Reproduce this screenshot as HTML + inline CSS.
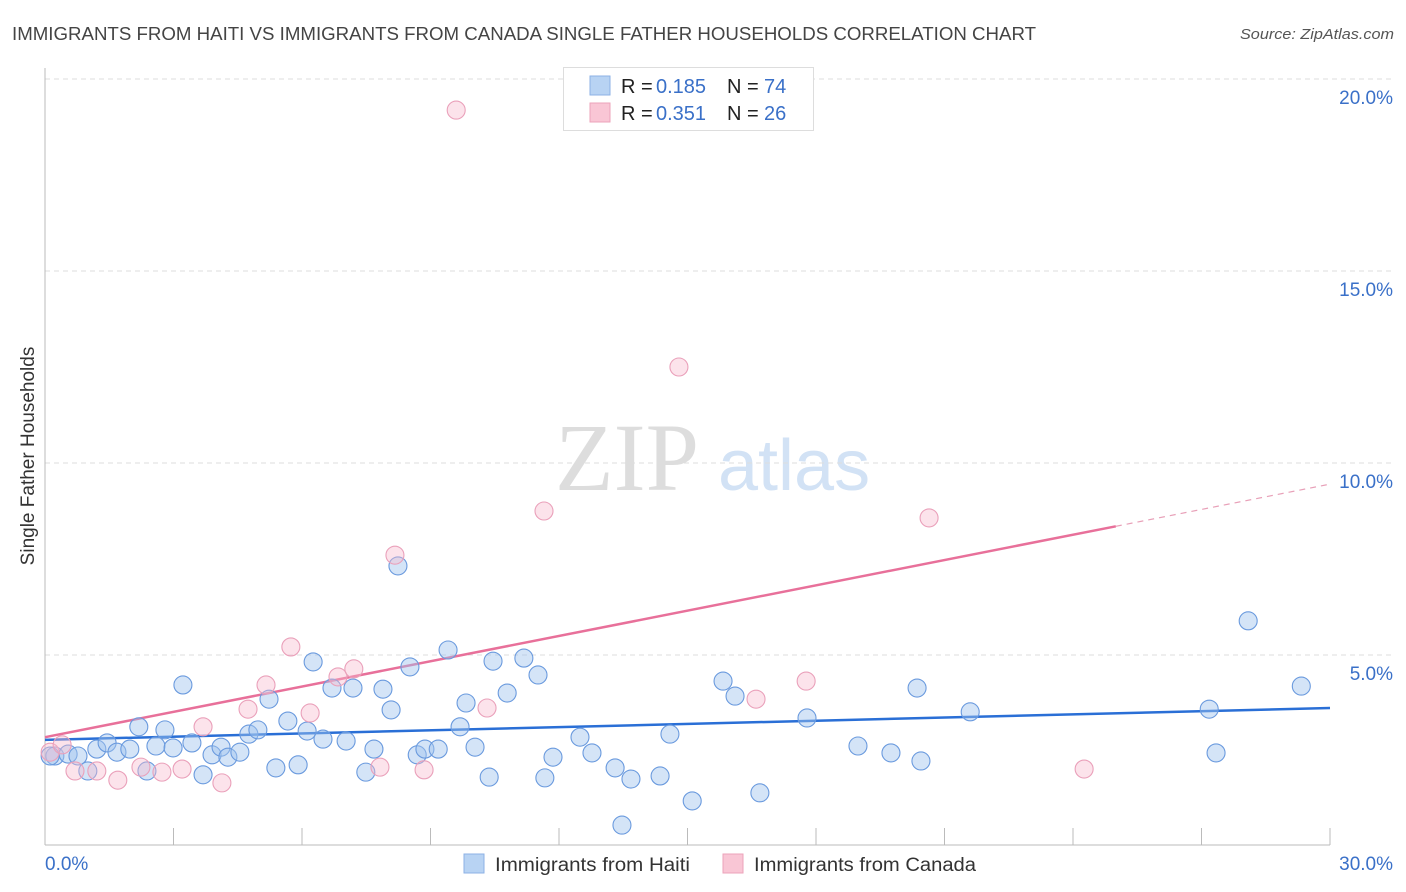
<!DOCTYPE html>
<html><head><meta charset="utf-8"><style>
body{margin:0;background:#fff;font-family:"Liberation Sans",sans-serif}
svg{display:block}
</style></head><body>
<svg id="chart" width="1406" height="892" xmlns="http://www.w3.org/2000/svg">
<text x="12" y="40" font-size="18" fill="#444" textLength="1024" lengthAdjust="spacingAndGlyphs">IMMIGRANTS FROM HAITI VS IMMIGRANTS FROM CANADA SINGLE FATHER HOUSEHOLDS CORRELATION CHART</text>
<text x="1240" y="39" font-size="15" fill="#555" font-style="italic" textLength="154" lengthAdjust="spacingAndGlyphs">Source: ZipAtlas.com</text>
<g>
<text x="555" y="490" font-size="96" fill="#ddd" font-family="Liberation Serif,serif">ZIP</text>
<text x="718" y="490" font-size="72" fill="#d2e2f5">atlas</text>
</g>
<g id="grid"></g>
<g id="axes"></g>
<g id="trend"></g>
<g id="pts"></g>
<text transform="translate(34,456) rotate(-90)" font-size="19" fill="#333" text-anchor="middle">Single Father Households</text>
<g>
<rect x="563.5" y="67.5" width="250" height="63" fill="#fff" stroke="#ddd"/>
<rect x="590" y="76" width="20" height="19" fill="#b8d3f3" stroke="#8cb2e6"/>
<rect x="590" y="103" width="20" height="19" fill="#f9c6d5" stroke="#eca3ba"/>
<text y="93" font-size="20" fill="#222"><tspan x="621">R =</tspan><tspan x="656" fill="#3a70c8">0.185</tspan><tspan x="727">N =</tspan><tspan x="764" fill="#3a70c8">74</tspan></text>
<text y="120" font-size="20" fill="#222"><tspan x="621">R =</tspan><tspan x="656" fill="#3a70c8">0.351</tspan><tspan x="727">N =</tspan><tspan x="764" fill="#3a70c8">26</tspan></text>
</g>
<g>
<rect x="464" y="854" width="20" height="19" fill="#b8d3f3" stroke="#8cb2e6"/>
<text x="495" y="871" font-size="19" fill="#333" textLength="195" lengthAdjust="spacingAndGlyphs">Immigrants from Haiti</text>
<rect x="723" y="854" width="20" height="19" fill="#f9c6d5" stroke="#eca3ba"/>
<text x="754" y="871" font-size="19" fill="#333" textLength="222" lengthAdjust="spacingAndGlyphs">Immigrants from Canada</text>
</g>
</svg>
<script>
const haitiX=[0.23,0.54,0.77,1.00,1.21,1.45,1.68,1.98,2.19,2.38,2.59,2.80,2.99,3.22,3.43,3.69,3.90,4.11,4.27,4.55,4.76,4.97,5.23,5.39,5.67,5.91,6.12,6.26,6.49,6.70,7.03,7.19,7.49,7.68,7.89,8.08,8.24,8.52,8.69,8.87,9.18,9.41,9.69,9.83,10.04,10.37,10.46,10.79,11.18,11.51,11.67,11.86,12.49,12.77,13.31,13.68,14.36,14.59,13.47,15.11,15.83,16.11,16.69,17.79,18.98,19.75,20.45,20.36,21.60,27.18,27.34,28.09,29.33,0.12];
const haitiY=[2.37,2.42,2.37,1.98,2.55,2.71,2.47,2.55,3.13,1.98,2.63,3.05,2.58,4.22,2.71,1.88,2.40,2.60,2.34,2.47,2.94,3.05,3.85,2.06,3.28,2.14,3.02,4.82,2.81,4.14,2.76,4.14,1.95,2.55,4.11,3.57,7.32,4.69,2.40,2.55,2.55,5.13,3.13,3.75,2.60,1.82,4.84,4.01,4.92,4.48,1.80,2.34,2.86,2.45,2.06,1.77,1.85,2.94,0.57,1.20,4.32,3.93,1.41,3.36,2.63,2.45,2.24,4.14,3.52,3.59,2.45,5.89,4.19,2.37];
const canadaX=[0.12,0.40,0.70,1.21,1.70,2.24,2.73,3.20,3.69,4.13,4.74,5.16,5.74,6.19,6.84,7.21,7.82,8.17,8.85,9.60,10.32,11.65,14.80,16.60,17.77,20.64,24.26];
const canadaY=[2.47,2.66,1.98,1.98,1.74,2.08,1.95,2.03,3.13,1.67,3.59,4.22,5.21,3.49,4.43,4.64,2.08,7.60,2.01,19.19,3.62,8.75,12.50,3.85,4.32,8.57,2.03];
const haitiTrend=[2.79,3.62];
const canadaTrend=[2.86,9.45];
const canadaSolidEnd=25;
const yTicks=[5,10,15,20];
const xTickLabels=["0.0%","30.0%"];
const NS="http://www.w3.org/2000/svg";
const X=v=>45+v*(1285/30), Y=v=>847-v*38.4;
function mk(tag,attrs,parent){const e=document.createElementNS(NS,tag);for(const k in attrs)e.setAttribute(k,attrs[k]);document.getElementById(parent).appendChild(e);return e;}
yTicks.forEach(t=>{
 const l=mk('line',{x1:45,x2:1393,y1:Y(t),y2:Y(t),stroke:'#ddd','stroke-dasharray':'5,4'},'grid');
 
 
 const tx=mk('text',{x:1393,y:Y(t)+25,'font-size':19,fill:'#3a70c8','text-anchor':'end'},'grid');
 tx.textContent=t.toFixed(1)+'%';
 
 
});
let a=mk('line',{x1:45,x2:45,y1:68,y2:845,stroke:'#bbb'},'axes');


a=mk('line',{x1:45,x2:1330,y1:845,y2:845,stroke:'#bbb'},'axes');


for(let i=0;i<=10;i++){
 const t=mk('line',{x1:X(i*3),x2:X(i*3),y1:828,y2:845,stroke:'#bbb'},'axes');
 
 
}
let xl=mk('text',{x:45,y:870,'font-size':19,fill:'#3a70c8'},'axes');xl.textContent=xTickLabels[0];


xl=mk('text',{x:1393,y:870,'font-size':19,fill:'#3a70c8','text-anchor':'end'},'axes');xl.textContent=xTickLabels[1];


haitiX.forEach((x,i)=>{
 const c=mk('circle',{cx:X(x),cy:Y(haitiY[i]),r:9,fill:'rgba(160,196,238,0.45)',stroke:'#6a9ade','stroke-width':1.1},'pts');
 
 
});
canadaX.forEach((x,i)=>{
 const c=mk('circle',{cx:X(x),cy:Y(canadaY[i]),r:9,fill:'rgba(247,185,205,0.4)',stroke:'#eaa0ba','stroke-width':1.1},'pts');
 
 
});
const cAt=x=>canadaTrend[0]+(canadaTrend[1]-canadaTrend[0])*x/30;
let tl=mk('line',{x1:X(0),y1:Y(haitiTrend[0]),x2:X(30),y2:Y(haitiTrend[1]),stroke:'#2a6fd6','stroke-width':2.5},'trend');


tl=mk('line',{x1:X(0),y1:Y(cAt(0)),x2:X(canadaSolidEnd),y2:Y(cAt(canadaSolidEnd)),stroke:'#e8709a','stroke-width':2.5},'trend');


tl=mk('line',{x1:X(canadaSolidEnd),y1:Y(cAt(canadaSolidEnd)),x2:X(30),y2:Y(cAt(30)),stroke:'#e8a0b8','stroke-width':1.2,'stroke-dasharray':'6,5'},'trend');


</script>
</body></html>
